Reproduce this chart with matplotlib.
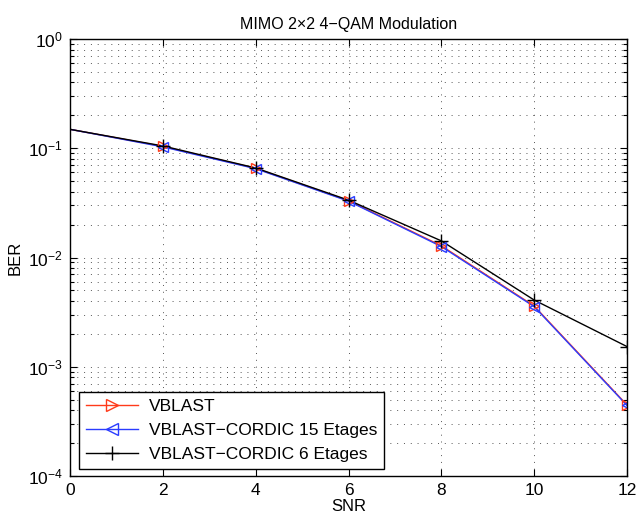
import matplotlib
matplotlib.use("Agg")
import matplotlib.pyplot as plt
from matplotlib.ticker import LogLocator, NullFormatter, FixedLocator
from matplotlib.lines import Line2D

plt.rcParams['font.family'] = ['Liberation Sans', 'DejaVu Sans']
plt.rcParams['mathtext.fontset'] = 'custom'
plt.rcParams['mathtext.rm'] = 'Liberation Sans'
plt.rcParams['mathtext.it'] = 'Liberation Sans'

snr = [0, 2, 4, 6, 8, 10, 12]
ber_vblast = [0.149, 0.104, 0.0655, 0.0331, 0.0128, 0.00360, 0.000447]
ber_cordic15 = [0.149, 0.103, 0.0650, 0.0328, 0.0126, 0.00355, 0.000442]
ber_cordic6 = [0.149, 0.105, 0.0660, 0.0335, 0.0142, 0.00408, 0.00153]
labels = ['VBLAST', 'VBLAST\u2212CORDIC 15 Etages', 'VBLAST\u2212CORDIC 6 Etages']
title = 'MIMO 2\u00d72 4\u2212QAM Modulation'

red = '#ff3a1a'
blue = '#2a3cff'

fig = plt.figure(figsize=(6.38, 5.21), dpi=100)
ax = fig.add_axes([70/638, 1-476/521, 557/638, 437/521])

ax.semilogy(snr, ber_vblast, color=red, lw=1.0)
ax.semilogy(snr, ber_cordic15, color=blue, lw=1.0)
ax.semilogy(snr, ber_cordic6, color='black', lw=1.0)
ax.semilogy(snr[1:], ber_vblast[1:], marker='>', mfc='none', mec=red, ms=7, mew=1.0, ls='none')
ax.semilogy(snr[1:], ber_cordic15[1:], marker='<', mfc='none', mec=blue, ms=7, mew=1.0, ls='none')
ax.semilogy(snr[1:], ber_cordic6[1:], color='black', marker='+', ms=10, mew=1.0, ls='none')

h1 = Line2D([], [], color=red, lw=1.0, marker='>', mfc='none', mec=red, ms=8)
h2 = Line2D([], [], color=blue, lw=1.0, marker='<', mfc='none', mec=blue, ms=8)
h3 = Line2D([], [], color='black', lw=1.0, marker='+', ms=10)

ax.set_xlim(0, 12)
ax.set_ylim(1e-4, 1e0)
ax.xaxis.set_major_locator(FixedLocator(snr))
ax.yaxis.set_major_locator(LogLocator(base=10, numticks=10))
ax.yaxis.set_minor_locator(LogLocator(base=10, subs=range(2, 10), numticks=20))
ax.yaxis.set_minor_formatter(NullFormatter())

gstyle = dict(ls=(0, (1, 6)), color='#555555', lw=0.7)
ax.grid(True, which='major', axis='both', **gstyle)
ax.grid(True, which='minor', axis='y', **gstyle)

ax.tick_params(which='both', direction='in', top=True, right=True, labelsize=12.5)
ax.tick_params(which='major', length=5, width=0.8, pad=5)
ax.tick_params(which='minor', length=3, width=0.8)
for s in ax.spines.values():
    s.set_linewidth(1.0)

ax.set_title(title, fontsize=11.5, pad=7)
ax.set_xlabel('SNR', fontsize=12, labelpad=1)
ax.set_ylabel('BER', fontsize=12, labelpad=4)

leg = ax.legend([h1, h2, h3], labels, loc='lower left', fontsize=12.5,
                bbox_to_anchor=(0.017, 0.017), borderaxespad=0, fancybox=False,
                framealpha=1, edgecolor='black', handlelength=3.0,
                labelspacing=0.5, borderpad=0.4, handletextpad=0.6)
leg.get_frame().set_linewidth(1.0)

fig.savefig('out.png', dpi=100)
